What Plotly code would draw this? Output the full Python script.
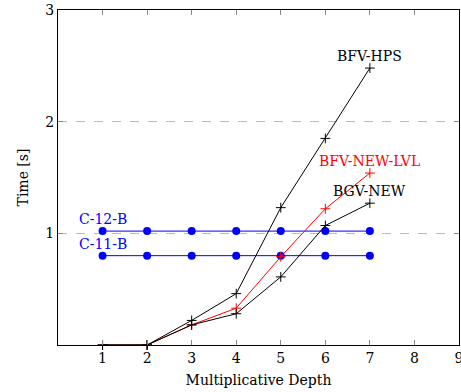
import plotly.graph_objects as go

depth = [1, 2, 3, 4, 5, 6, 7]
bfv_hps = [0.0, 0.0, 0.22, 0.46, 1.23, 1.85, 2.48]
bfv_new_lvl = [0.0, 0.0, 0.18, 0.33, 0.79, 1.22, 1.54]
bgv_new = [0.0, 0.0, 0.18, 0.28, 0.61, 1.07, 1.27]
c12b = [1.02] * 7
c11b = [0.80] * 7

x_ticks = [1, 2, 3, 4, 5, 6, 7, 8, 9]
y_ticks = [1, 2, 3]

FONT = "DejaVu Serif, Liberation Serif, serif"

fig = go.Figure()

def add_plus(y, color):
    fig.add_trace(go.Scatter(
        x=depth, y=y, mode="lines+markers",
        line=dict(color=color, width=1),
        marker=dict(symbol="cross-thin", size=7, color=color,
                    line=dict(color=color, width=1)),
        showlegend=False, cliponaxis=False))

def add_dots(y, color):
    fig.add_trace(go.Scatter(
        x=depth, y=y, mode="lines+markers",
        line=dict(color=color, width=1),
        marker=dict(symbol="circle", size=8, color=color),
        showlegend=False, cliponaxis=False))

add_dots(c12b, "blue")
add_dots(c11b, "blue")
add_plus(bfv_new_lvl, "red")
add_plus(bgv_new, "black")
add_plus(bfv_hps, "black")

annots = [
    ("BFV-HPS", 7, bfv_hps[-1], "black"),
    ("BFV-NEW-LVL", 7, bfv_new_lvl[-1], "red"),
    ("BGV-NEW", 7, bgv_new[-1], "black"),
    ("C-12-B", 1, c12b[0], "blue"),
    ("C-11-B", 1, c11b[0], "blue"),
]
for text, xv, yv, col in annots:
    fig.add_annotation(x=xv, y=yv, text=text, showarrow=False,
                       yshift=12, font=dict(family=FONT, size=14, color=col))

fig.update_layout(
    width=461, height=392,
    margin=dict(l=58, r=2, t=10, b=47),
    plot_bgcolor="white", paper_bgcolor="white",
    font=dict(family=FONT, size=14, color="black"),
)
fig.update_xaxes(
    range=[0, 9], tickvals=x_ticks, ticks="inside", ticklen=5,
    tickcolor="#888", showgrid=False, zeroline=False, automargin=False,
    ticklabeloverflow="allow",
    showline=True, linecolor="black", linewidth=1, mirror="allticks",
    title=dict(text="Multiplicative Depth", standoff=10, font=dict(size=14)),
)
fig.update_yaxes(
    range=[0, 3], tickvals=y_ticks, ticks="inside", ticklen=5,
    tickcolor="#888", showgrid=True, gridcolor="#bbbbbb", griddash="dash",
    gridwidth=1, zeroline=False, automargin=False,
    ticklabeloverflow="allow",
    showline=True, linecolor="black", linewidth=1, mirror="allticks",
    title=dict(text="Time [s]", standoff=13, font=dict(size=14)),
)

fig.write_html("out.html", config={"displayModeBar": False},
               post_script="document.body.style.margin='0';")
